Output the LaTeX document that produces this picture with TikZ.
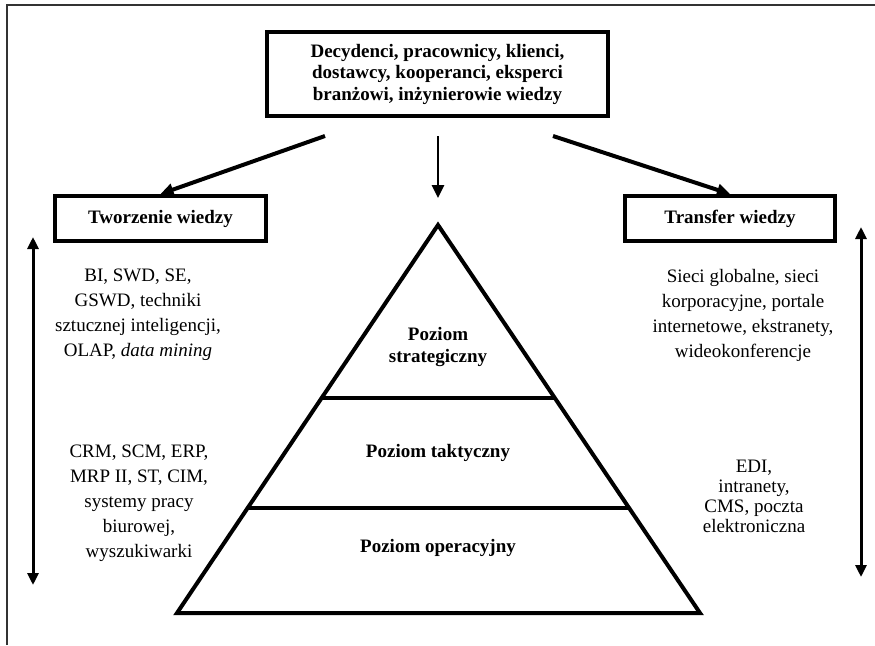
\documentclass[tikz,border=0pt]{standalone}
\usepackage{fontspec}
\setmainfont{Liberation Serif}
\usetikzlibrary{arrows.meta,calc}
\begin{document}
\begin{tikzpicture}[x=1pt,y=-1pt,
  box/.style={draw, line width=4pt, inner sep=0pt, align=center,
    font=\fontsize{19}{21.5}\selectfont\bfseries},
  lbl/.style={align=center, inner sep=0pt, font=\fontsize{19}{25}\selectfont},
  lbltight/.style={align=center, inner sep=0pt, font=\fontsize{19}{20}\selectfont},
  level/.style={align=center, inner sep=0pt, font=\fontsize{19}{22}\selectfont\bfseries},
  flow/.style={line width=4pt, -{Triangle[length=13pt,width=12pt]}},
  down/.style={line width=2.6pt, -{Triangle[length=13pt,width=12pt]}},
  span/.style={line width=3pt, {Triangle[length=12pt,width=11pt]}-{Triangle[length=12pt,width=11pt]}},
  tier/.style={line width=4pt, line join=miter}
]
\useasboundingbox (0,0) rectangle (875,645);
% outer frame (only its left and top edges fall inside the page)
\draw[line width=1.8pt, black!80] (7,645) -- (7,5) -- (875,5);

% participants
\node[box, minimum width=341pt, minimum height=84pt] (who) at (437.5,74)
  {Decydenci, pracownicy, klienci,\\dostawcy, kooperanci, eksperci\\branżowi, inżynierowie wiedzy};

% the two processes
\node[box, minimum width=211pt, minimum height=45pt] (create) at (160.5,218.5) {Tworzenie wiedzy};
\node[box, minimum width=210pt, minimum height=45pt] (transfer) at (730,218.5) {Transfer wiedzy};

% arrows from the participants
\coordinate (sl) at (325,136);
\coordinate (sc) at (438,136);
\coordinate (sr) at (553,136);
\coordinate (pc) at (438,198);
\draw[flow] (sl) -- (create.north);
\draw[flow] (sr) -- (transfer.north);
\draw[down] (sc) -- (pc);

% pyramid of management levels
\coordinate (apex) at (438,225);
\coordinate (bl) at (177,613);
\coordinate (br) at (700,613);
\draw[tier] (apex) -- (bl) -- (br) -- cycle;
\draw[line width=3.6pt] ($(apex)!0.4459!(bl)$) -- ($(apex)!0.4459!(br)$);
\draw[line width=3.6pt] ($(apex)!0.7294!(bl)$) -- ($(apex)!0.7294!(br)$);
\node[level] (strat) at (438,347) {Poziom\\strategiczny};
\node[level] (takt) at (438,453) {Poziom taktyczny};
\node[level] (oper) at (438,548) {Poziom operacyjny};

% knowledge creation tools
\node[lbl] (c1) at (138,314.5) {BI, SWD, SE,\\GSWD, techniki\\sztucznej inteligencji,\\OLAP, \textit{data mining}};
\node[lbl] (c2) at (139,503) {CRM, SCM, ERP,\\MRP II, ST, CIM,\\systemy pracy\\biurowej,\\wyszukiwarki};

% knowledge transfer tools
\node[lbl] (t1) at (743,315) {Sieci globalne, sieci\\korporacyjne, portale\\internetowe, ekstranety,\\wideokonferencje};
\node[lbltight] (t2) at (754,496) {EDI,\\intranety,\\CMS, poczta\\elektroniczna};

% vertical ranges
\coordinate (la) at (33,237);
\coordinate (lb) at (33,585);
\coordinate (ra) at (861,227);
\coordinate (rb) at (861,577);
\draw[span] (la) -- (lb);
\draw[span] (ra) -- (rb);
\end{tikzpicture}
\end{document}
